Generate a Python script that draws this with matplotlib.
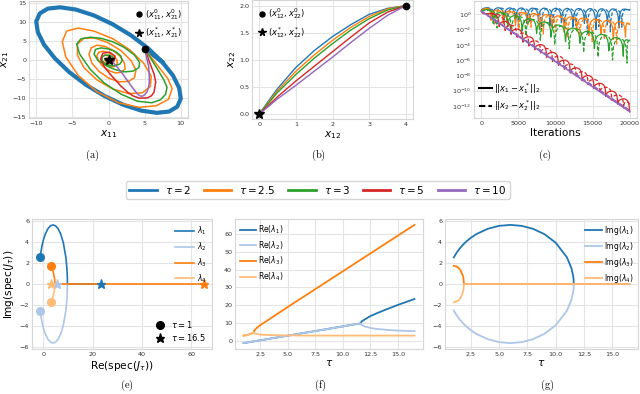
import numpy as np
import matplotlib
matplotlib.use('Agg')
import matplotlib.pyplot as plt
from matplotlib.lines import Line2D
from matplotlib.ticker import NullLocator

plt.rcParams.update({
    'font.family': ['DejaVu Sans'],
    'mathtext.fontset': 'dejavusans',
    'axes.edgecolor': '#d6d6d6',
    'axes.linewidth': 0.8,
    'axes.grid': True,
    'grid.color': '#e4e4e4',
    'grid.linewidth': 0.8,
    'axes.axisbelow': True,
    'xtick.major.size': 0, 'ytick.major.size': 0,
    'xtick.minor.size': 0, 'ytick.minor.size': 0,
    'xtick.labelsize': 4.6, 'ytick.labelsize': 4.6,
    'xtick.color': '#333333', 'ytick.color': '#333333',
    'xtick.major.pad': 2.0, 'ytick.major.pad': 2.0,
})

# ---------------- data ----------------
taus = [2, 2.5, 3, 5, 10]
tau_labels = [r'$\tau = 2$', r'$\tau = 2.5$', r'$\tau = 3$', r'$\tau = 5$', r'$\tau = 10$']
tau_colors = ['#1f77b4', '#ff7f0e', '#2ca02c', '#d62728', '#9467bd']

# (a) trajectories (x11, x21)
a_blue_x = [5.0, 7.43, 8.92, 9.78, 10.0, 9.51, 8.39, 6.69, 4.54, 2.08, -0.52, -3.09, -5.45, -7.43, -8.92,
            -9.78, -10.0, -9.51, -8.39, -6.69, -4.54, -2.08, 0.52, 3.09, 5.45, 7.43]
a_blue_y = [3.0, -0.48, -4.04, -7.34, -10.12, -12.23, -13.5, -13.85, -13.26, -11.76, -9.46, -6.52, -3.13, 0.48, 4.04,
            7.34, 10.12, 12.23, 13.5, 13.85, 13.26, 11.76, 9.46, 6.52, 3.13, -0.48]
a_orange = [(5.0, 3.0), (6.6, -1.0), (8.2, -4.8), (8.8, -7.5), (8.3, -10.3), (6.6, -12.0), (4.2, -12.4),
            (1.4, -11.2), (-1.6, -8.3), (-4.2, -4.0), (-5.9, 0.8), (-6.4, 4.8), (-5.8, 7.6), (-4.2, 8.4),
            (-2.0, 7.6), (0.6, 5.6), (3.0, 2.6), (4.9, -0.9), (5.9, -4.2), (5.8, -6.9), (4.7, -8.6), (2.8, -8.8),
            (0.6, -7.6), (-1.6, -5.2), (-3.4, -2.0), (-4.3, 1.3), (-4.3, 4.2), (-3.4, 5.7), (-1.9, 5.8),
            (-0.1, 4.6), (1.7, 2.5), (3.1, -0.1), (3.8, -2.6), (3.6, -4.6), (2.8, -5.6), (1.5, -5.7), (0.1, -4.8),
            (-1.3, -3.0), (-2.3, -0.8), (-2.7, 1.5), (-2.4, 3.2), (-1.6, 3.9), (-0.5, 3.6), (0.6, 2.6), (1.6, 1.0),
            (2.2, -0.8), (2.3, -2.3), (1.8, -3.2), (1.0, -3.4), (0.1, -2.8), (-0.8, -1.6), (-1.4, -0.2),
            (-1.6, 1.2), (-1.3, 2.1), (-0.7, 2.3), (0.1, 1.9), (0.8, 1.0), (1.2, -0.1), (1.2, -1.1), (0.8, -1.7),
            (0.3, -1.8), (-0.3, -1.3), (-0.8, -0.5), (-1.0, 0.4), (-0.8, 1.1), (-0.4, 1.3), (0.1, 1.0), (0.5, 0.4),
            (0.6, -0.3), (0.4, -0.8), (0.1, -0.9), (-0.3, -0.6), (-0.5, -0.1), (-0.4, 0.4), (-0.1, 0.5),
            (0.2, 0.3), (0.2, -0.1), (0.0, -0.2), (0.0, 0.0)]
a_green = [(5.0, 3.0), (6.0, 0.0), (6.75, -2.3), (7.6, -5.0), (8.1, -7.1), (7.9, -9.0), (7.2, -10.4),
           (6.0, -11.2), (4.0, -10.8), (1.8, -9.0), (-0.6, -6.0), (-2.5, -2.5), (-4.0, 1.6), (-4.4, 4.2),
           (-3.8, 5.6), (-2.5, 6.0), (-1.0, 5.7), (0.6, 4.8), (2.2, 3.3), (3.6, 1.3), (4.3, -0.6), (4.2, -2.0),
           (3.4, -2.9), (2.2, -3.1), (0.9, -2.5), (-0.4, -1.4), (-1.5, 0.0), (-2.0, 1.6), (-1.8, 2.8),
           (-1.0, 3.2), (0.0, 2.9), (1.0, 2.2), (1.7, 1.1), (1.9, -0.1), (1.6, -1.0), (0.9, -1.5), (0.2, -1.4),
           (-0.5, -0.9), (-0.9, -0.1), (-0.9, 0.8), (-0.5, 1.3), (0.1, 1.3), (0.6, 0.8), (0.8, 0.1), (0.6, -0.5),
           (0.2, -0.6), (-0.2, -0.4), (-0.4, 0.0), (-0.3, 0.4), (0.0, 0.4), (0.2, 0.2), (0.1, -0.1), (0.0, 0.0)]
a_red = [(5.0, 3.1), (5.85, -1.44), (6.3, -3.6), (6.53, -5.8), (6.3, -8.43), (5.95, -9.35), (5.39, -9.92),
         (4.25, -10.0), (3.4, -9.4), (2.65, -8.43), (1.7, -6.8), (0.82, -4.93), (0.1, -3.4), (-0.55, -1.86),
         (-1.1, 0.31), (-0.78, 1.81), (0.14, 2.07), (0.92, 1.02), (0.73, -0.39), (0.2, -0.45), (-0.2, 0.1),
         (0.0, 0.0)]
a_purple = [(5.02, 3.12), (5.3, 0.31), (5.55, -1.6), (5.62, -3.18), (5.65, -4.8), (5.62, -6.25), (5.5, -7.5),
            (5.3, -8.43), (5.0, -9.1), (4.7, -9.48), (4.35, -9.4), (4.01, -8.87), (3.55, -7.8), (3.11, -6.69),
            (2.5, -5.1), (1.96, -3.62), (1.4, -2.3), (0.82, -1.0), (0.35, -0.3), (0.0, 0.0)]
a_start = (5.0, 3.0)
a_opt = (0.0, 0.0)

# (b) trajectories (x12, x22)
b_x = [0, 0.25, 0.5, 1.0, 1.5, 2.0, 2.5, 3.0, 3.5, 4.0]
b_y = [
    [0, 0.24, 0.47, 0.86, 1.17, 1.43, 1.65, 1.84, 1.95, 2.0],
    [0, 0.22, 0.43, 0.79, 1.09, 1.36, 1.60, 1.80, 1.94, 2.0],
    [0, 0.20, 0.40, 0.73, 1.03, 1.30, 1.55, 1.76, 1.92, 2.0],
    [0, 0.16, 0.32, 0.61, 0.88, 1.15, 1.42, 1.68, 1.88, 2.0],
    [0, 0.14, 0.28, 0.53, 0.79, 1.05, 1.32, 1.58, 1.82, 2.0],
]
b_start = (4.0, 2.0)
b_opt = (0.0, 0.0)

# (c) distance to optimum (log10), anchors = dips, tops = arch maxima
c_blue_it = [0, 1500, 3050, 4600, 6150, 7700, 9250, 10800, 12350, 13900, 15450, 17000, 18550, 20000]
c_blue_dip = [0.45, -0.6, -0.8, -1.0, -1.2, -0.9, -1.5, -1.1, -1.7, -1.2, -2.0, -1.4, -1.8, 0.6]
c_blue_top = [0.85, 0.85, 0.83, 0.82, 0.8, 0.8, 0.78, 0.77, 0.75, 0.74, 0.72, 0.7, 0.68]
c_blue_it_d = [0, 1900, 3450, 5000, 6550, 8100, 9650, 11200, 12750, 14300, 15850, 17400, 18950, 20000]
c_blue_dip_d = [0.4, -1.3, -1.0, -1.8, -0.9, -2.1, -1.3, -2.3, -1.5, -2.4, -1.6, -2.3, -1.7, 0.55]
c_blue_top_d = [0.8, 0.8, 0.78, 0.77, 0.76, 0.75, 0.73, 0.72, 0.7, 0.69, 0.67, 0.65, 0.6]

c_or_it = [0, 1300, 2950, 4600, 6250, 7900, 9550, 11200, 12850, 14500, 16150, 17800, 19450, 20000]
c_or_dip = [0.45, -0.8, -1.2, -1.5, -1.4, -2.0, -1.8, -2.4, -2.2, -2.8, -2.6, -3.3, -3.0, -1.3]
c_or_top = [0.75, 0.55, 0.4, 0.25, 0.1, -0.05, -0.2, -0.35, -0.5, -0.65, -0.8, -0.95, -1.15]
c_or_it_d = [0, 1750, 3400, 5050, 6700, 8350, 10000, 11650, 13300, 14950, 16600, 18250, 20000]
c_or_dip_d = [0.4, -1.4, -1.1, -2.0, -1.7, -2.6, -2.3, -3.1, -2.8, -3.6, -3.3, -3.9, -1.4]
c_or_top_d = [0.72, 0.52, 0.36, 0.2, 0.05, -0.1, -0.25, -0.4, -0.55, -0.7, -0.85, -1.1]

c_gr_it = [0, 1600, 3550, 5500, 7450, 9400, 11350, 13300, 15250, 17200, 19150, 20000]
c_gr_dip = [0.45, -1.2, -1.6, -2.2, -2.5, -3.0, -3.6, -3.8, -4.5, -4.8, -5.5, -3.4]
c_gr_top = [0.6, 0.23, -0.18, -0.59, -1.0, -1.41, -1.82, -2.23, -2.64, -3.05, -3.35]
c_gr_it_d = [0, 2100, 4050, 6000, 7950, 9900, 11850, 13800, 15750, 17700, 19650, 20000]
c_gr_dip_d = [0.4, -1.8, -2.4, -2.8, -3.4, -4.0, -4.5, -5.0, -5.6, -6.0, -6.4, -3.6]
c_gr_top_d = [0.55, 0.13, -0.28, -0.69, -1.1, -1.51, -1.92, -2.33, -2.74, -3.15, -3.5]

c_rd_it = [0, 2400, 4000, 5600, 7200, 8800, 10400, 12000, 13600, 15200, 16800, 18400, 20000]
c_rd_dip = [0.4, -1.62, -2.64, -3.66, -4.67, -5.69, -6.70, -7.72, -8.74, -9.75, -10.77, -11.78, -12.8]
c_rd_top = [0.1, -0.93, -1.95, -2.96, -3.98, -5.0, -6.01, -7.03, -8.04, -9.06, -10.08, -11.09]
c_rd_it_d = [0, 3200, 4800, 6400, 8000, 9600, 11200, 12800, 14400, 16000, 17600, 19200, 20000]
c_rd_dip_d = [0.4, -2.13, -3.15, -4.16, -5.18, -6.2, -7.21, -8.23, -9.24, -10.26, -11.28, -12.29, -12.0]
c_rd_top_d = [0.05, -1.44, -2.46, -3.47, -4.49, -5.5, -6.52, -7.54, -8.55, -9.57, -10.58, -11.5]

c_pu_it = [0, 5000, 10000, 15000, 20000]
c_pu_log = [0.4, -2.9, -6.2, -9.5, -12.75]
c_pu_log_d = [0.35, -2.8, -6.05, -9.35, -12.6]

# arch profile (fraction of the rise from dip to top)
ARCH_U = [0.0, 0.04, 0.08, 0.16, 0.26, 0.38, 0.5, 0.62, 0.74, 0.84, 0.92, 0.96]
ARCH_F = [0.0, 0.45, 0.65, 0.82, 0.92, 0.98, 1.0, 0.98, 0.92, 0.82, 0.65, 0.45]

# (e)-(g) eigenvalues of J_tau
tau = [1.0, 1.2, 1.4, 1.6, 1.8, 1.85, 1.9, 2.0, 2.2, 2.5, 3.0, 4.0, 5.0, 6.0, 7.0, 8.0, 9.0, 10.0, 11.0,
       11.4, 11.55, 11.58, 11.6, 11.7, 12.0, 12.5, 13.0, 14.0, 15.0, 16.5]
re_l1 = [-1.2, -0.99, -0.78, -0.58, -0.37, -0.32, -0.26, -0.16, 0.05, 0.36, 0.88, 1.92, 2.96, 4.0, 5.04, 6.08,
         7.12, 8.16, 9.2, 9.62, 9.77, 9.8, 9.82, 10.9, 12.1, 13.9, 15.3, 17.8, 20.2, 23.5]
re_l2 = [-1.2, -0.99, -0.78, -0.58, -0.37, -0.32, -0.26, -0.16, 0.05, 0.36, 0.88, 1.92, 2.96, 4.0, 5.04, 6.08,
         7.12, 8.16, 9.2, 9.62, 9.77, 9.8, 9.82, 9.0, 8.1, 7.3, 6.8, 6.2, 5.8, 5.5]
re_l3 = [3.0, 3.2, 3.5, 3.9, 4.4, 4.6, 4.8, 6.0, 7.3, 8.8, 10.8, 14.9, 19.0, 23.0, 27.0, 31.0, 35.0, 39.0, 43.0,
         44.6, 45.2, 45.3, 45.4, 45.8, 47.0, 49.0, 51.0, 55.0, 59.0, 65.0]
re_l4 = [3.0, 3.2, 3.5, 3.9, 4.4, 4.6, 4.8, 4.2, 3.9, 3.6, 3.4, 3.2, 3.1, 3.05, 3.0, 3.0, 3.0, 3.0, 3.0,
         3.0, 3.0, 3.0, 3.0, 3.0, 3.0, 3.0, 3.0, 3.0, 3.0, 3.0]
im_l1 = [2.52, 2.88, 3.19, 3.46, 3.70, 3.76, 3.81, 3.92, 4.11, 4.37, 4.73, 5.23, 5.51, 5.6, 5.51, 5.23, 4.73,
         3.92, 2.52, 1.48, 0.75, 0.47, 0, 0, 0, 0, 0, 0, 0, 0]
im_l2 = [-v for v in im_l1]
im_l3 = [1.72, 1.68, 1.55, 1.30, 0.80, 0.57, 0, 0, 0, 0, 0, 0, 0, 0, 0, 0, 0, 0, 0,
         0, 0, 0, 0, 0, 0, 0, 0, 0, 0, 0]
im_l4 = [-v for v in im_l3]
lam_colors = ['#1f77b4', '#aec7e8', '#ff7f0e', '#ffbb78']
lam_re = [re_l1, re_l2, re_l3, re_l4]
lam_im = [im_l1, im_l2, im_l3, im_l4]

# ---------------- figure ----------------
fig = plt.figure(figsize=(6.4, 3.94), dpi=100)
W, H = 640.0, 394.0


def px_axes(l, t, r, b):
    return fig.add_axes([l / W, 1 - b / H, (r - l) / W, (b - t) / H])


LBL = 7.6

# (a)
ax = px_axes(29, 1, 188, 118)
ax.plot(a_blue_x, a_blue_y, color=tau_colors[0], lw=3.0, solid_joinstyle='round')
for pts, col in zip([a_orange, a_green, a_red, a_purple], tau_colors[1:]):
    xs, ys = zip(*pts)
    ax.plot(xs, ys, color=col, lw=1.1, solid_joinstyle='round')
ax.plot([a_start[0]], [a_start[1]], 'o', color='k', ms=4.5, zorder=6, label=r'$(x_{11}^0, x_{21}^0)$')
ax.plot([a_opt[0]], [a_opt[1]], '*', color='k', ms=7, zorder=6, label=r'$(x_{11}^*, x_{21}^*)$')
ax.set_xlim(-11, 11)
ax.set_ylim(-15.2, 15.5)
ax.set_xticks([-10, -5, 0, 5, 10])
ax.set_yticks([-15, -10, -5, 0, 5, 10, 15])
ax.set_xlabel(r'$x_{11}$', fontsize=LBL, labelpad=1.5)
ax.set_ylabel(r'$x_{21}$', fontsize=LBL, labelpad=1.0)
ax.legend(loc='upper right', fontsize=6.0, frameon=False, handletextpad=0.2, borderaxespad=0.3,
          labelspacing=0.45, handlelength=1.0, markerscale=0.8)

# (b)
ax = px_axes(252, 0.3, 413, 119.4)
for ys, col in zip(b_y, tau_colors):
    ax.plot(b_x, ys, color=col, lw=1.0)
ax.plot([b_start[0]], [b_start[1]], 'o', color='k', ms=4.5, zorder=6, label=r'$(x_{12}^0, x_{22}^0)$')
ax.plot([b_opt[0]], [b_opt[1]], '*', color='k', ms=7, zorder=6, label=r'$(x_{12}^*, x_{22}^*)$')
ax.set_xlim(-0.2, 4.2)
ax.set_ylim(-0.1, 2.1)
ax.set_xticks([0, 1, 2, 3, 4])
ax.set_yticks([0.0, 0.5, 1.0, 1.5, 2.0])
ax.set_xlabel(r'$x_{12}$', fontsize=LBL, labelpad=1.5)
ax.set_ylabel(r'$x_{22}$', fontsize=LBL, labelpad=1.0)
ax.legend(loc='upper left', fontsize=6.0, frameon=False, handletextpad=0.2, borderaxespad=0.3,
          labelspacing=0.45, handlelength=1.0, markerscale=0.8)


# (c)
def arch_curve(anchor_it, anchor_log, top_log):
    u = np.array(ARCH_U)
    f = np.array(ARCH_F)
    xs, ys = [], []
    for k in range(len(top_log)):
        t0, t1 = anchor_it[k], anchor_it[k + 1]
        b0, b1 = anchor_log[k], anchor_log[k + 1]
        base = b0 + (b1 - b0) * u
        xs.extend(t0 + (t1 - t0) * u)
        ys.extend(base + (top_log[k] - base) * f)
    xs.append(anchor_it[-1])
    ys.append(anchor_log[-1])
    return np.array(xs), 10.0 ** np.array(ys)


ax = px_axes(474, 0.5, 637, 118)
c_sets = [
    (c_blue_it, c_blue_dip, c_blue_top, c_blue_it_d, c_blue_dip_d, c_blue_top_d),
    (c_or_it, c_or_dip, c_or_top, c_or_it_d, c_or_dip_d, c_or_top_d),
    (c_gr_it, c_gr_dip, c_gr_top, c_gr_it_d, c_gr_dip_d, c_gr_top_d),
    (c_rd_it, c_rd_dip, c_rd_top, c_rd_it_d, c_rd_dip_d, c_rd_top_d),
]
for (it, dp, tp, itd, dpd, tpd), col in zip(c_sets, tau_colors[:4]):
    xs, ys = arch_curve(it, dp, tp)
    ax.plot(xs, ys, color=col, lw=0.9)
    xs, ys = arch_curve(itd, dpd, tpd)
    ax.plot(xs, ys, color=col, lw=0.9, ls=(0, (3, 1.5)))
ax.plot(c_pu_it, 10.0 ** np.array(c_pu_log), color=tau_colors[4], lw=1.2)
ax.plot(c_pu_it, 10.0 ** np.array(c_pu_log_d), color=tau_colors[4], lw=1.2, ls=(0, (3, 1.5)))
ax.set_yscale('log')
ax.set_xlim(-1000, 21000)
ax.set_ylim(10 ** -13.6, 10 ** 1.8)
ax.set_yticks([10.0 ** e for e in [0, -2, -4, -6, -8, -10, -12]])
ax.yaxis.set_minor_locator(NullLocator())
ax.set_xticks([0, 5000, 10000, 15000, 20000])
ax.set_xlabel('Iterations', fontsize=LBL, labelpad=1.5)
c_handles = [Line2D([], [], color='k', lw=1.5), Line2D([], [], color='k', lw=1.5, ls=(0, (3, 1.5)))]
ax.legend(c_handles, [r'$||x_1 - x_1^*||_2$', r'$||x_2 - x_2^*||_2$'], loc='lower left', fontsize=6.0,
          frameon=False, handlelength=1.6, handletextpad=0.2, borderaxespad=0.2, labelspacing=0.3)

# main legend
leg_handles = [Line2D([], [], color=c, lw=2.0) for c in tau_colors]
fig.legend(leg_handles, tau_labels, loc='center', bbox_to_anchor=(318 / W, 1 - 190 / H), ncol=5,
           fontsize=7.5, frameon=True, edgecolor='#cccccc', fancybox=True, handlelength=2.6,
           columnspacing=1.2, handletextpad=0.8, borderpad=0.3)

# (e)
ax = px_axes(32, 219, 212, 349)
for re_, im_, col in zip(lam_re, lam_im, lam_colors):
    ax.plot(re_, im_, color=col, lw=1.2)
lam_lbl = [r'$\lambda_1$', r'$\lambda_2$', r'$\lambda_3$', r'$\lambda_4$']
for re_, im_, col in zip(lam_re, lam_im, lam_colors):
    ax.plot([re_[0]], [im_[0]], 'o', color=col, ms=5.5, zorder=5)
    ax.plot([re_[-1]], [im_[-1]], '*', color=col, ms=6.5, zorder=5)
ax.set_xlim(-4.5, 68.3)
ax.set_ylim(-6.16, 6.16)
ax.set_xticks([0, 20, 40, 60])
ax.set_yticks([-6, -4, -2, 0, 2, 4, 6])
ax.set_xlabel(r'Re(spec($J_\tau$))', fontsize=LBL, labelpad=1.5)
ax.set_ylabel(r'Img(spec($J_\tau$))', fontsize=LBL, labelpad=2.5)
h1 = [Line2D([], [], color=c, lw=1.2) for c in lam_colors]
l1 = ax.legend(h1, lam_lbl, loc='upper right', fontsize=5.5, frameon=False, handlelength=2.6,
               handletextpad=0.3, borderaxespad=0.3, labelspacing=0.45)
ax.add_artist(l1)
h2 = [Line2D([], [], color='k', marker='o', ls='', ms=5.5), Line2D([], [], color='k', marker='*', ls='', ms=6.5)]
ax.legend(h2, [r'$\tau = 1$', r'$\tau = 16.5$'], loc='lower right', fontsize=6.0, frameon=False,
          handletextpad=0.3, borderaxespad=0.3, labelspacing=0.3)

# (f)
ax = px_axes(235, 219, 423, 349)
for re_, col in zip(lam_re, lam_colors):
    ax.plot(tau, re_, color=col, lw=1.3)
ax.set_xlim(0.225, 17.275)
ax.set_ylim(-4.5, 68.3)
ax.set_xticks([2.5, 5.0, 7.5, 10.0, 12.5, 15.0])
ax.set_yticks([0, 10, 20, 30, 40, 50, 60])
ax.set_xlabel(r'$\tau$', fontsize=LBL, labelpad=1.0)
ax.legend([Line2D([], [], color=c, lw=1.3) for c in lam_colors],
          [r'Re($\lambda_1$)', r'Re($\lambda_2$)', r'Re($\lambda_3$)', r'Re($\lambda_4$)'],
          loc='upper left', fontsize=5.5, frameon=False, handlelength=2.2, handletextpad=0.2,
          borderaxespad=0.2, labelspacing=0.4)

# (g)
ax = px_axes(445, 219, 638, 349)
for im_, col in zip(lam_im, lam_colors):
    ax.plot(tau, im_, color=col, lw=1.3)
ax.set_xlim(0.225, 17.275)
ax.set_ylim(-6.16, 6.16)
ax.set_xticks([2.5, 5.0, 7.5, 10.0, 12.5, 15.0])
ax.set_yticks([-6, -4, -2, 0, 2, 4, 6])
ax.set_xlabel(r'$\tau$', fontsize=LBL, labelpad=1.0)
ax.legend([Line2D([], [], color=c, lw=1.3) for c in lam_colors],
          [r'Img($\lambda_1$)', r'Img($\lambda_2$)', r'Img($\lambda_3$)', r'Img($\lambda_4$)'],
          loc='upper right', fontsize=5.5, frameon=False, handlelength=2.2, handletextpad=0.2,
          borderaxespad=0.2, labelspacing=0.4)

# captions
for lbl, x, y in [('(a)', 92, 155), ('(b)', 318, 155), ('(c)', 545, 155),
                  ('(e)', 127, 385), ('(f)', 320, 385), ('(g)', 547, 385)]:
    fig.text(x / W, 1 - y / H, r'$\mathrm{' + lbl + '}$', ha='center', va='center', fontsize=7.5,
             math_fontfamily='cm')

fig.savefig('out.png', dpi=100)
